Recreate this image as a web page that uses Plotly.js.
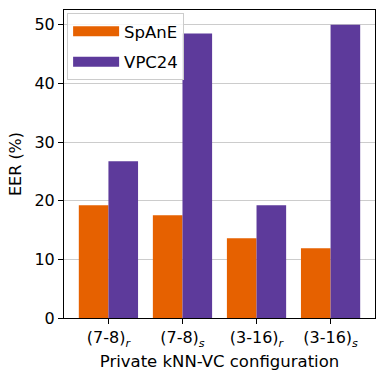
<!DOCTYPE html>
<html>
<head>
<meta charset="utf-8">
<script src="https://cdn.plot.ly/plotly-3.0.1.min.js"></script>
<style>
  html, body { margin: 0; padding: 0; background: #fff; }
  #chart { width: 384px; height: 382px; }
</style>
</head>
<body>
<div id="chart"></div>
<script>
// configurations on the x axis
const configs = ['(7-8)<sub><i>r</i></sub>', '(7-8)<sub><i>s</i></sub>', '(3-16)<sub><i>r</i></sub>', '(3-16)<sub><i>s</i></sub>'];
const positions = [0, 1, 2, 3];
const seriesNames = ['SpAnE', 'VPC24'];
const seriesColors = ['#e66100', '#5d3a9b'];
const spaneEer = [19.2, 17.5, 13.6, 11.9];
const vpc24Eer = [26.7, 48.5, 19.2, 50.0];

const font = { family: "DejaVu Sans, sans-serif", size: 16, color: "#000" };

const bars = [spaneEer, vpc24Eer].map((vals, i) => ({
    x: positions,
    y: vals,
    type: 'bar',
    name: seriesNames[i],
    legendgroup: seriesNames[i],
    showlegend: false,
    marker: { color: seriesColors[i] },
    width: 0.4,
    offset: i === 0 ? -0.4 : 0
}));

// legend-only entries so the swatches come out as wide patches
const legendEntries = seriesNames.map((name, i) => ({
    x: [null],
    y: [null],
    type: 'scatter',
    mode: 'lines',
    name: name,
    legendgroup: name,
    line: { color: seriesColors[i], width: 12 }
}));

const layout = {
    width: 384,
    height: 382,
    margin: { l: 64, r: 9, t: 10, b: 64 },
    paper_bgcolor: '#fff',
    plot_bgcolor: '#fff',
    font: font,
    showlegend: true,
    legend: {
        x: 0.01, y: 0.99,
        xanchor: 'left', yanchor: 'top',
        bgcolor: 'rgba(255,255,255,0.8)',
        bordercolor: '#cccccc',
        borderwidth: 1,
        font: { family: font.family, size: 16.5, color: '#000' },
        tracegroupgap: 6,
        itemwidth: 46
    },
    xaxis: {
        range: [-0.6, 3.6],
        tickvals: positions,
        ticktext: configs,
        ticks: 'outside',
        ticklen: 5,
        tickcolor: '#000',
        showgrid: false,
        zeroline: false,
        showline: true,
        linecolor: '#000',
        linewidth: 1,
        mirror: true,
        title: { text: 'Private kNN-VC configuration', font: { size: 16.5 }, standoff: 6 }
    },
    yaxis: {
        range: [0, 52.5],
        tickvals: [0, 10, 20, 30, 40, 50],
        ticks: 'outside',
        ticklen: 5,
        tickcolor: '#000',
        showgrid: true,
        gridcolor: '#cccccc',
        gridwidth: 1,
        zeroline: false,
        showline: true,
        linecolor: '#000',
        linewidth: 1,
        mirror: true,
        title: { text: 'EER (%)', font: { size: 16 }, standoff: 8 }
    },
    bargap: 0.2
};

Plotly.newPlot('chart', [...bars, ...legendEntries], layout, { displayModeBar: false, staticPlot: true });
</script>
</body>
</html>
